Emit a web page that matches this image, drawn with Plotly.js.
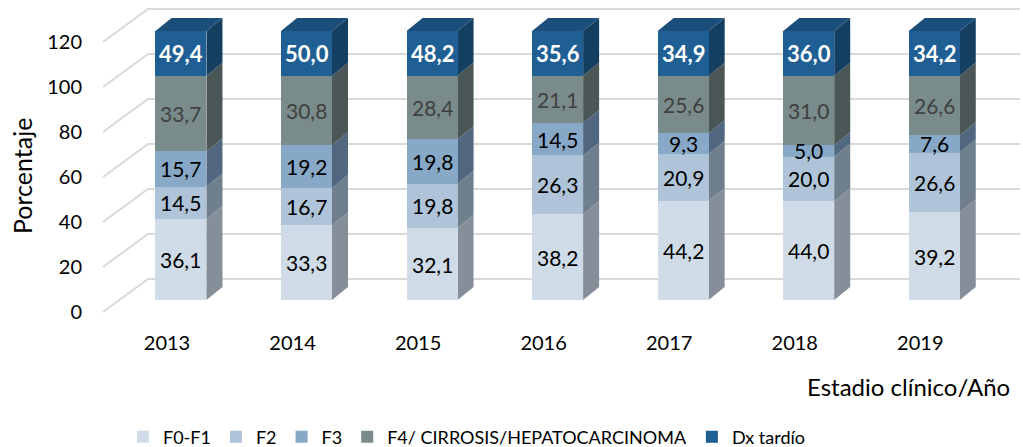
<!DOCTYPE html>
<html>
<head>
<meta charset="utf-8">
<script src="https://cdn.plot.ly/plotly-3.0.1.min.js"></script>
<style>html,body{margin:0;padding:0;background:#fff;}#chart{width:1023px;height:447px;}</style>
</head>
<body>
<div id="chart"></div>
<script>
// ---- data ----
const years = ['2013','2014','2015','2016','2017','2018','2019'];
const seriesNames = ['F0-F1','F2','F3','F4/ CIRROSIS/HEPATOCARCINOMA','Dx tardío'];
const f0f1 = [36.1, 33.3, 32.1, 38.2, 44.2, 44.0, 39.2];
const f2   = [14.5, 16.7, 19.8, 26.3, 20.9, 20.0, 26.6];
const f3   = [15.7, 19.2, 19.8, 14.5, 9.3, 5.0, 7.6];
const f4   = [33.7, 30.8, 28.4, 21.1, 25.6, 31.0, 26.6];
const dxTardio = [49.4, 50.0, 48.2, 35.6, 34.9, 36.0, 34.2];
const yTicks = [0, 20, 40, 60, 80, 100, 120];

// ---- styles ----
const seriesValues = [f0f1, f2, f3, f4, dxTardio];
const frontColors = ['#cfdbe7', '#afc4d8', '#87a8c6', '#7a8b8b', '#1f5f94'];
const sideColors  = ['#868f99', '#6f7f8d', '#50677f', '#4b5756', '#153f61'];
const topColor = '#1b4e7a';
const labelColors = ['#000000', '#000000', '#000000', '#404040', '#ffffff'];
const FONT = 'Lato, "Open Sans", sans-serif';

const W = 1023, H = 447;
const fx = px => px / W;
const fy = py => 1 - py / H;

// geometry (pixels)
const BAR_Y0 = 300, BAR_YTOP = 31;
const YMAX = 120;
const X_START = 118.2, STEP = 125.55;
const BAR_FRAC = 0.406;
const DX = 16, DY = -13;
const FRONT_Y0 = 312, BACK_Y0 = 279, FRONT_X = 103, BACK_X = 148, WALL_END = 1020;
const gridScale = 270 / YMAX;
const barScale = (BAR_Y0 - BAR_YTOP) / YMAX;
const yPix = v => BAR_Y0 - v * barScale;
const xCenter = i => X_START + (i + 0.5) * STEP;
const halfW = BAR_FRAC * STEP / 2;

const traces = seriesValues.map((vals, s) => ({
  type: 'bar',
  name: seriesNames[s],
  x: years,
  y: vals,
  marker: {color: frontColors[s], line: {width: 0}},
  hoverinfo: 'x+y+name',
  xaxis: 'x', yaxis: 'y'
}));
// carrier trace for the label axes
traces.push({
  type: 'scatter', mode: 'markers', x: years, y: years.map(() => 0),
  xaxis: 'x2', yaxis: 'y2', marker: {opacity: 0}, hoverinfo: 'skip', showlegend: false
});

const shapes = [];
yTicks.forEach(v => {
  const f = FRONT_Y0 - v * gridScale, b = BACK_Y0 - v * gridScale;
  shapes.push({
    type: 'path', xref: 'paper', yref: 'paper', layer: 'below',
    path: `M ${fx(FRONT_X)} ${fy(f)} L ${fx(BACK_X)} ${fy(b)} L ${fx(WALL_END)} ${fy(b)}`,
    line: {color: '#d9d9d9', width: 2}
  });
});

const annotations = [];
years.forEach((yr, i) => {
  let cum = 0;
  const xr = xCenter(i) + halfW, xl = xCenter(i) - halfW;
  seriesValues.forEach((vals, s) => {
    const bot = Math.min(cum, YMAX);
    const top = Math.min(cum + vals[i], YMAX);
    cum += vals[i];
    if (top > bot) {
      const pb = yPix(bot), pt = yPix(top);
      shapes.push({
        type: 'path', xref: 'paper', yref: 'paper', layer: 'below',
        path: `M ${fx(xr)} ${fy(pb)} L ${fx(xr + DX)} ${fy(pb + DY)} L ${fx(xr + DX)} ${fy(pt + DY)} L ${fx(xr)} ${fy(pt)} Z`,
        fillcolor: sideColors[s], line: {width: 0}
      });
      const txt = vals[i].toFixed(1).replace('.', ',');
      annotations.push({
        xref: 'x', yref: 'y', x: i, y: (bot + top) / 2, showarrow: false,
        text: s === 4 ? '<b>' + txt + '</b>' : txt,
        font: {family: FONT, size: s === 4 ? 22 : 21, color: labelColors[s]}
      });
    }
  });
  const pt = yPix(Math.min(cum, YMAX));
  shapes.push({
    type: 'path', xref: 'paper', yref: 'paper', layer: 'below',
    path: `M ${fx(xl)} ${fy(pt)} L ${fx(xl + DX)} ${fy(pt + DY)} L ${fx(xr + DX)} ${fy(pt + DY)} L ${fx(xr)} ${fy(pt)} Z`,
    fillcolor: topColor, line: {width: 0}
  });
});

annotations.push({
  xref: 'paper', yref: 'paper', x: fx(1012), y: fy(386), xanchor: 'right', yanchor: 'middle',
  showarrow: false, text: 'Estadio clínico/Año', font: {family: FONT, size: 24, color: '#000'}
});
annotations.push({
  xref: 'paper', yref: 'paper', x: fx(22), y: fy(176), xanchor: 'center', yanchor: 'middle',
  showarrow: false, textangle: -90, text: 'Porcentaje', font: {family: FONT, size: 25, color: '#000'}
});

const layout = {
  width: W, height: H, autosize: false,
  margin: {l: 0, r: 0, t: 0, b: 0, pad: 0, autoexpand: false},
  paper_bgcolor: '#ffffff', plot_bgcolor: 'rgba(0,0,0,0)',
  barmode: 'stack', bargap: 1 - BAR_FRAC,
  font: {family: FONT, color: '#000'},
  xaxis: {
    domain: [fx(X_START), fx(X_START + 7 * STEP)], type: 'category', categoryorder: 'array', categoryarray: years,
    range: [-0.5, 6.5], autorange: false,
    showticklabels: false, showgrid: false, zeroline: false, showline: false, ticks: '', fixedrange: true
  },
  yaxis: {
    domain: [fy(BAR_Y0), fy(BAR_YTOP)], range: [0, YMAX], autorange: false, showticklabels: false,
    showgrid: false, zeroline: false, showline: false, ticks: '', fixedrange: true
  },
  xaxis2: {
    domain: [fx(X_START - 14), fx(X_START - 14 + 7 * STEP)], type: 'category', categoryorder: 'array', categoryarray: years,
    range: [-0.5, 6.5], autorange: false,
    anchor: 'free', position: fy(329), showgrid: false, zeroline: false, showline: false, ticks: '',
    tickfont: {family: FONT, size: 20, color: '#000'}, fixedrange: true, automargin: false
  },
  yaxis2: {
    domain: [fy(FRONT_Y0), fy(FRONT_Y0 - 270)], range: [0, YMAX], autorange: false, tickvals: yTicks,
    anchor: 'free', position: fx(82), showgrid: false, zeroline: false, showline: false, ticks: '',
    tickfont: {family: FONT, size: 20, color: '#000'}, fixedrange: true, automargin: false
  },
  legend: {
    orientation: 'h', x: fx(467), xanchor: 'center', y: fy(437), yanchor: 'middle',
    traceorder: 'normal', font: {family: FONT, size: 18, color: '#000'}, itemwidth: 30
  },
  shapes: shapes,
  annotations: annotations,
  showlegend: true
};

Plotly.newPlot('chart', traces, layout, {displayModeBar: false, staticPlot: true});
</script>
</body>
</html>
